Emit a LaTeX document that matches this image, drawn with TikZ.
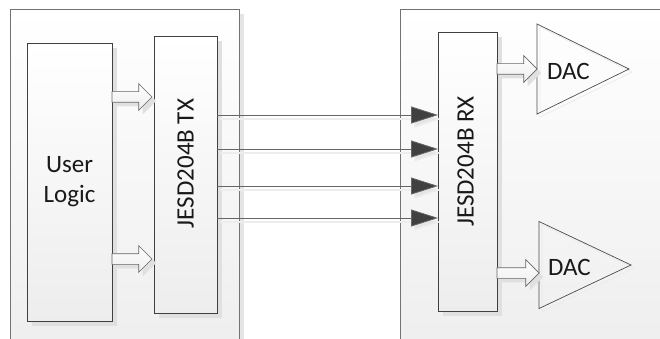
\documentclass[tikz,border=0pt]{standalone}
\usepackage{fontspec}
\setmainfont{Carlito}
\usetikzlibrary{positioning,shapes.geometric,shapes.arrows,arrows.meta,shadows}
\begin{document}
\begin{tikzpicture}[x=1pt,y=1pt,
  every node/.style={inner sep=0pt,outer sep=0pt},
  shade box/.style={top color=white,bottom color=black!7},
  board/.style={shade box,draw=black!55,line width=0.8pt,
    drop shadow={shadow xshift=5pt,shadow yshift=-5pt,fill=black!10,opacity=1}},
  block/.style={shade box,draw=black!75,line width=0.8pt,
    drop shadow={shadow xshift=5pt,shadow yshift=-5pt,fill=black!12,opacity=1}},
  lbl/.style={font=\fontsize{25}{30}\selectfont,text=black!90},
  fatarrow/.style={single arrow,shade box,draw=black!60,line width=0.7pt,
    inner ysep=5pt,inner xsep=0pt,minimum width=0pt,minimum height=40pt,
    single arrow head extend=8pt,anchor=tail,
    drop shadow={shadow xshift=4pt,shadow yshift=-4pt,fill=black!12,opacity=1}},
  lane/.style={draw=black!60,line width=0.8pt,
    -{Triangle[length=27pt,width=17pt,fill=black!75]},
    preaction={draw=black!7,line width=1.5pt,-{Triangle[length=27pt,width=17pt,fill=black!10]},
      transform canvas={shift={(3pt,-4pt)}}}},
  dac/.style={isosceles triangle,isosceles triangle stretches,draw=black!70,line width=0.7pt,
    minimum width=90pt,minimum height=92pt,anchor=lower side,
    preaction={draw=black!8,transform canvas={shift={(3pt,-3pt)}}}}]
\useasboundingbox (0,0) rectangle (660,-339);
\clip (0,0) rectangle (660,-339);
\fill[white] (0,0) rectangle (660,-339);
\node[board,minimum width=229pt,minimum height=360pt,anchor=north west] (txbrd) at (10,-9) {};
\node[board,minimum width=290pt,minimum height=360pt,anchor=north west] (rxbrd) at (400,-9) {};
\node[block,minimum width=85pt,minimum height=278pt,anchor=north west] (ulogic) at (27,-43) {};
\node[lbl,align=center] (ulogiclbl) at (ulogic.center) {User\\Logic};
\node[block,minimum width=63pt,minimum height=277pt,anchor=north west] (tx) at (154,-36) {};
\node[lbl,rotate=90] (txlbl) at ([shift={(0,11)}]tx.center) {JESD204B TX};
\node[block,minimum width=59pt,minimum height=279pt,anchor=north west] (rx) at (438,-32) {};
\node[lbl,rotate=90] (rxlbl) at ([shift={(-2,10)}]rx.center) {JESD204B RX};
\node[fatarrow] (ua1) at (ulogic.east |- 0,-97) {};
\node[fatarrow] (ua2) at (ulogic.east |- 0,-259) {};
\foreach \y in {115,149,186,218}
  \draw[lane] (tx.east |- 0,-\y) -- (rx.west |- 0,-\y);
\node[dac] (dac1) at (537,-69) {};
\node[lbl,anchor=west] (dac1lbl) at ([shift={(10,-2)}]dac1.lower side) {DAC};
\node[dac,minimum width=87pt] (dac2) at (539,-265) {};
\node[lbl,anchor=west] (dac2lbl) at ([shift={(9,-2)}]dac2.lower side) {DAC};
\node[fatarrow] (ra1) at (rx.east |- dac1.lower side) {};
\node[fatarrow,minimum height=42pt] (ra2) at (rx.east |- 0,-273) {};
\end{tikzpicture}
\end{document}
